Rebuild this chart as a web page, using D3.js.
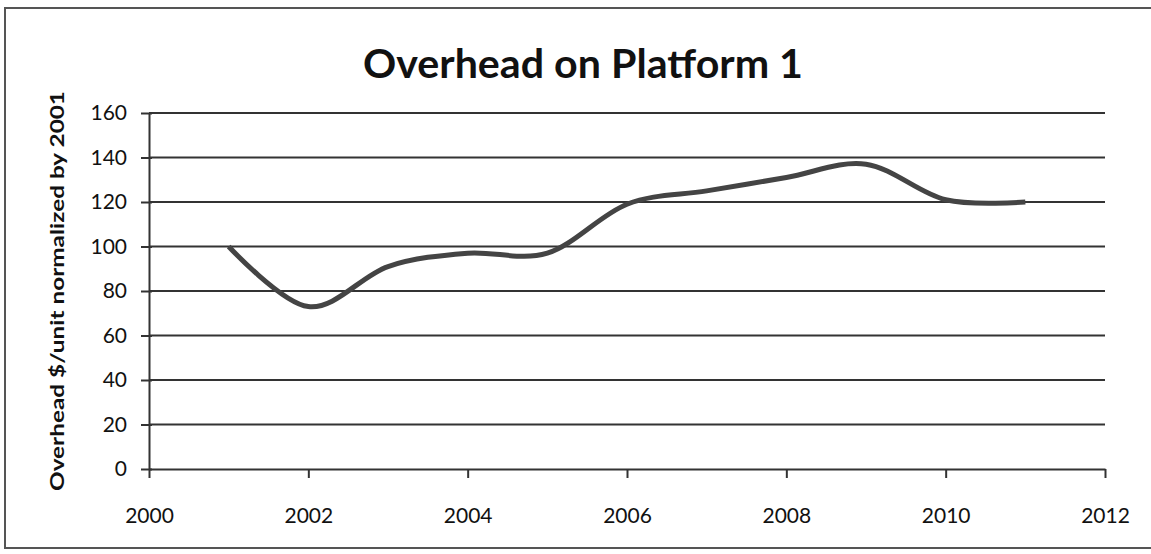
<!DOCTYPE html>
<html>
<head>
<meta charset="utf-8">
<script src="https://cdn.jsdelivr.net/npm/d3@7"></script>
<style>
  body { margin: 0; background: #fff; }
  text { font-family: Lato, "Open Sans", sans-serif; fill: #111; }
</style>
</head>
<body>
<svg width="1151" height="554"></svg>
<script>
// Values
var years = [2001, 2002, 2003, 2004, 2005, 2006, 2007, 2008, 2009, 2010, 2011];
var overhead = [100, 73, 91, 97, 97, 119, 125, 131, 137, 121, 120];
var xTicks = [2000, 2002, 2004, 2006, 2008, 2010, 2012];
var yTicks = [0, 20, 40, 60, 80, 100, 120, 140, 160];

var svg = d3.select("svg"),
    width = +svg.attr("width"),
    height = +svg.attr("height");

var x = d3.scaleLinear().domain([2000, 2012]).range([149, 1105]);
var y = d3.scaleLinear().domain([0, 160]).range([469, 113]);

// outer frame of the chart box
svg.append("rect")
    .attr("x", 5).attr("y", 8)
    .attr("width", 1160).attr("height", 540)
    .attr("fill", "none")
    .attr("stroke", "#555")
    .attr("stroke-width", 2);

svg.append("text")
    .attr("x", 583).attr("y", 78)
    .attr("text-anchor", "middle")
    .attr("font-size", 40)
    .attr("font-weight", "bold")
    .attr("textLength", 440)
    .attr("lengthAdjust", "spacingAndGlyphs")
    .text("Overhead on Platform 1");

// horizontal gridlines
svg.append("g")
  .selectAll("line")
  .data(yTicks.slice(1))
  .enter().append("line")
    .attr("x1", x(2000)).attr("x2", x(2012))
    .attr("y1", function(d) { return y(d); })
    .attr("y2", function(d) { return y(d); })
    .attr("stroke", "#333")
    .attr("stroke-width", 2);

var yAxis = svg.append("g")
    .attr("transform", "translate(" + x(2000) + ",0)")
    .call(d3.axisLeft(y).tickValues(yTicks).tickSizeInner(8).tickSizeOuter(0).tickPadding(14));

var xAxis = svg.append("g")
    .attr("transform", "translate(0," + y(0) + ")")
    .call(d3.axisBottom(x).tickValues(xTicks).tickFormat(d3.format("d")).tickSizeInner(9).tickSizeOuter(0).tickPadding(30));

[yAxis, xAxis].forEach(function(a) {
  a.select(".domain").attr("stroke", "#333").attr("stroke-width", 2);
  a.selectAll(".tick line").attr("stroke", "#333").attr("stroke-width", 2);
  a.selectAll("text")
    .attr("font-family", "Lato, 'Open Sans', sans-serif")
    .attr("font-size", 21)
    .attr("fill", "#111");
});
// y ticks cross the axis slightly
yAxis.selectAll(".tick line").attr("x2", -8).attr("x1", 3);

svg.append("text")
    .attr("transform", "translate(64,291) rotate(-90)")
    .attr("text-anchor", "middle")
    .attr("font-size", 19)
    .attr("font-weight", "bold")
    .attr("textLength", 400)
    .attr("lengthAdjust", "spacingAndGlyphs")
    .text("Overhead $/unit normalized by 2001");

// smoothed series line
var line = d3.line()
    .x(function(d, i) { return x(years[i]); })
    .y(function(d) { return y(d); })
    .curve(d3.curveCardinal.tension(0));

svg.append("path")
    .datum(overhead)
    .attr("d", line)
    .attr("fill", "none")
    .attr("stroke", "#444")
    .attr("stroke-width", 5)
    .attr("stroke-linecap", "butt");
</script>
</body>
</html>
